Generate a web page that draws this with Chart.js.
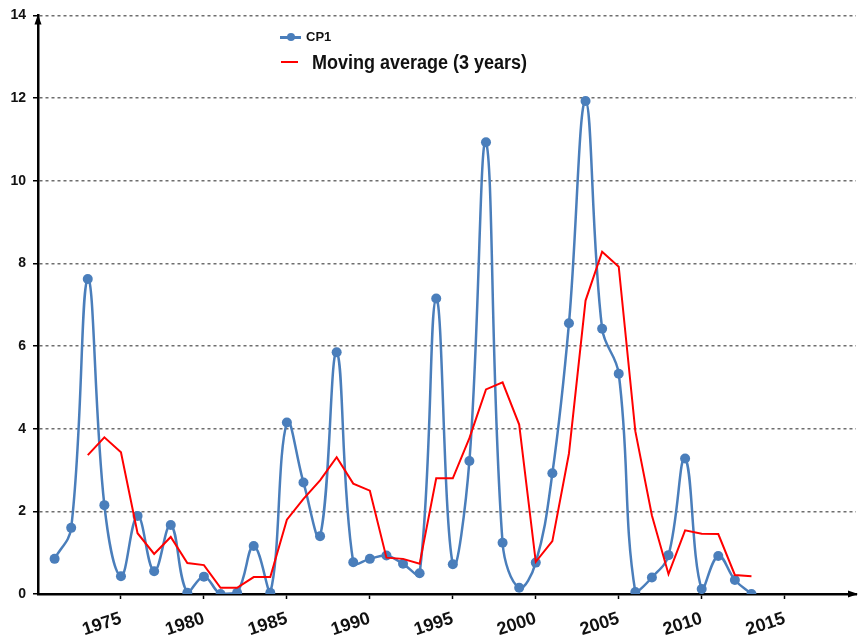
<!DOCTYPE html>
<html>
<head>
<meta charset="utf-8">
<script src="https://cdn.jsdelivr.net/npm/chart.js@4/dist/chart.umd.min.js"></script>
<style>
  html, body { margin: 0; padding: 0; background: #ffffff; }
  #wrap { position: relative; width: 861px; height: 641px; overflow: hidden; }
  #legend { position: absolute; left: 0; top: 0; font-family: "Liberation Sans", Arial, sans-serif; font-weight: bold; color: #111; }
  .row { position: absolute; white-space: nowrap; }
  .sw { position: absolute; }
</style>
</head>
<body>
<div id="wrap">
  <canvas id="c" width="861" height="641"></canvas>
  <div id="legend">
    <div class="sw" style="left:280px;top:36px;width:21px;height:2.5px;background:#4A7EBB;"></div>
    <div class="sw" style="left:287px;top:33px;width:8px;height:8px;border-radius:50%;background:#4A7EBB;"></div>
    <div class="row" style="left:306px;top:29px;font-size:13px;line-height:16px;">CP1</div>
    <div class="sw" style="left:281px;top:61px;width:17px;height:2px;background:#FF0000;"></div>
    <div class="row" style="left:312px;top:50px;font-size:20px;line-height:24px;transform:scaleX(0.9);transform-origin:0 50%;">Moving average (3 years)</div>
  </div>
</div>
<script>
// ---- data ----
const years = [1971,1972,1973,1974,1975,1976,1977,1978,1979,1980,
               1981,1982,1983,1984,1985,1986,1987,1988,1989,1990,
               1991,1992,1993,1994,1995,1996,1997,1998,1999,2000,
               2001,2002,2003,2004,2005,2006,2007,2008,2009,2010,
               2011,2012,2013];
const cp1 = [0.85,1.6,7.62,2.15,0.43,1.89,0.55,1.67,0.03,0.42,
             0.0,0.03,1.16,0.03,4.15,2.7,1.4,5.85,0.77,0.85,
             0.93,0.73,0.5,7.15,0.72,3.22,10.93,1.24,0.15,0.76,
             2.92,6.55,11.93,6.42,5.33,0.05,0.4,0.94,3.28,0.12,
             0.92,0.34,0.0];
const maYears = [1973,1974,1975,1976,1977,1978,1979,1980,1981,1982,
                 1983,1984,1985,1986,1987,1988,1989,1990,1991,1992,
                 1993,1994,1995,1996,1997,1998,1999,2000,2001,2002,
                 2003,2004,2005,2006,2007,2008,2009,2010,2011,2012,
                 2013];
const movingAvg = [3.36,3.79,3.43,1.47,0.97,1.38,0.75,0.7,0.15,0.15,
                   0.41,0.41,1.8,2.3,2.75,3.31,2.67,2.5,0.88,0.85,
                   0.73,2.8,2.8,3.77,4.95,5.12,4.1,0.78,1.28,3.4,
                   7.1,8.28,7.92,3.94,1.9,0.48,1.54,1.46,1.45,0.46,
                   0.43];
const yTicks = [0,2,4,6,8,10,12,14];
const xTickLabels = [1975,1980,1985,1990,1995,2000,2005,2010,2015];

const FONT = '"Liberation Sans", Arial, sans-serif';

const arrows = {
  id: 'arrows',
  afterDraw(chart) {
    const {ctx, chartArea: a} = chart;
    ctx.save();
    ctx.fillStyle = '#000';
    ctx.beginPath();
    ctx.moveTo(a.left, a.top - 1);
    ctx.lineTo(a.left - 3.5, a.top + 9);
    ctx.lineTo(a.left + 3.5, a.top + 9);
    ctx.closePath();
    ctx.fill();
    ctx.beginPath();
    ctx.moveTo(a.right + 2, a.bottom);
    ctx.lineTo(a.right - 8, a.bottom - 3.5);
    ctx.lineTo(a.right - 8, a.bottom + 3.5);
    ctx.closePath();
    ctx.fill();
    ctx.restore();
  }
};

new Chart(document.getElementById('c'), {
  type: 'line',
  data: {
    datasets: [
      {
        label: 'CP1',
        data: years.map((y, i) => ({x: y, y: cp1[i]})),
        borderColor: '#4A7EBB',
        backgroundColor: '#4A7EBB',
        borderWidth: 2.5,
        pointRadius: 5,
        pointHoverRadius: 5,
        pointBackgroundColor: '#4A7EBB',
        pointBorderWidth: 0,
        tension: 0.4,
        order: 1
      },
      {
        label: 'Moving average (3 years)',
        data: maYears.map((y, i) => ({x: y, y: movingAvg[i]})),
        borderColor: '#FF0000',
        backgroundColor: '#FF0000',
        borderWidth: 2,
        pointRadius: 0,
        tension: 0,
        order: 0
      }
    ]
  },
  options: {
    responsive: false,
    animation: false,
    events: [],
    layout: { padding: { top: 14, right: 0, left: 0, bottom: 0 } },
    plugins: { legend: { display: false }, tooltip: { enabled: false } },
    scales: {
      x: {
        type: 'linear',
        min: 1970,
        max: 2019.3,
        afterBuildTicks(scale) {
          scale.ticks = xTickLabels.map(v => ({value: v}));
        },
        afterFit(scale) { scale.height = 47; },
        ticks: {
          autoSkip: false,
          minRotation: 18,
          maxRotation: 18,
          padding: 9,
          color: '#111',
          font: { family: FONT, size: 18, weight: 'bold' },
          callback: v => String(v)
        },
        grid: { display: true, drawOnChartArea: false, drawTicks: true, tickLength: 5, tickColor: '#000', tickWidth: 1.5 },
        border: { display: true, color: '#000', width: 2.5 }
      },
      y: {
        min: 0,
        max: 14,
        afterBuildTicks(scale) {
          scale.ticks = yTicks.map(v => ({value: v}));
        },
        afterFit(scale) { scale.width = 38; },
        ticks: {
          padding: 7,
          color: '#111',
          font: { family: FONT, size: 14, weight: 'bold' }
        },
        grid: { color: '#6e6e6e', lineWidth: 1.5, drawTicks: true, tickLength: 5, tickColor: '#000', tickWidth: 1.5, tickBorderDash: [] },
        border: { display: true, color: '#000', width: 2.5, dash: [3, 3] }
      }
    }
  },
  plugins: [arrows]
});
</script>
</body>
</html>
